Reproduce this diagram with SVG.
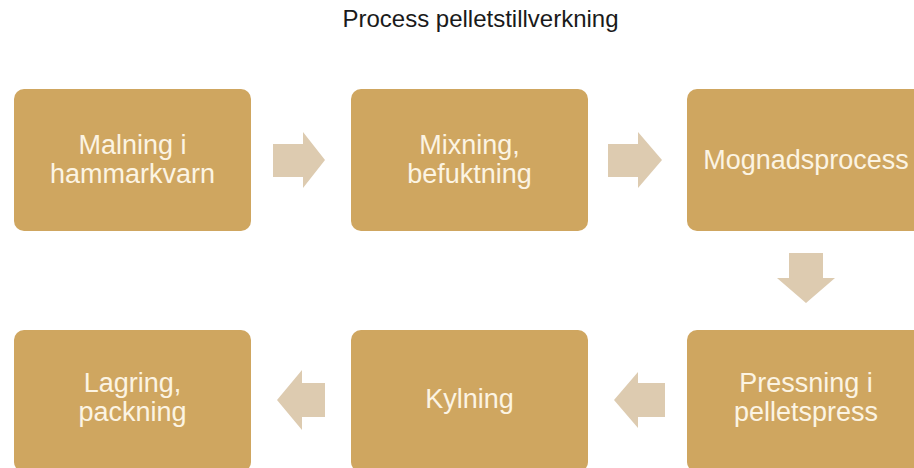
<svg xmlns="http://www.w3.org/2000/svg" width="914" height="468" viewBox="0 0 914 468">
<style>
.box{fill:#CFA660;}
.arr{fill:#DDCBB0;}
.lbl{font-family:"Liberation Sans",Arial,sans-serif;font-size:27px;fill:#FCF4E3;text-anchor:middle;}
.title{font-family:"Liberation Sans",Arial,sans-serif;font-size:24px;fill:#1a1a1a;text-anchor:middle;}
</style>
<rect width="914" height="468" fill="#ffffff"/>
<text class="title" x="480.5" y="27">Process pelletstillverkning</text>
<g id="connectors">
<polygon class="arr" points="273,144 303,144 303,132 325,160 303,188 303,177 273,177"/>
<polygon class="arr" points="608,144 638,144 638,132 662,160 638,188 638,177 608,177"/>
<polygon class="arr" points="789,253 823,253 823,278 835,278 806,303 777,278 789,278"/>
<polygon class="arr" points="665,383 638,383 638,372 614,400 638,428 638,417 665,417"/>
<polygon class="arr" points="325,383 302,383 302,370 277,400 302,430 302,417 325,417"/>
</g>
<g id="n1"><rect class="box" x="14" y="89" width="237" height="142" rx="10"/>
<text class="lbl" x="132.5" y="154">Malning i</text><text class="lbl" x="132.5" y="183">hammarkvarn</text></g>
<g id="n2"><rect class="box" x="351" y="89" width="237" height="142" rx="10"/>
<text class="lbl" x="469.5" y="154">Mixning,</text><text class="lbl" x="469.5" y="183">befuktning</text></g>
<g id="n3"><rect class="box" x="687" y="89" width="237" height="142" rx="10"/>
<text class="lbl" x="806" y="169">Mognadsprocess</text></g>
<g id="n4"><rect class="box" x="687" y="330" width="237" height="142" rx="10"/>
<text class="lbl" x="806" y="392">Pressning i</text><text class="lbl" x="806" y="421">pelletspress</text></g>
<g id="n5"><rect class="box" x="351" y="330" width="237" height="142" rx="10"/>
<text class="lbl" x="469.5" y="408">Kylning</text></g>
<g id="n6"><rect class="box" x="14" y="330" width="237" height="142" rx="10"/>
<text class="lbl" x="132.5" y="392">Lagring,</text><text class="lbl" x="132.5" y="421">packning</text></g>
</svg>
